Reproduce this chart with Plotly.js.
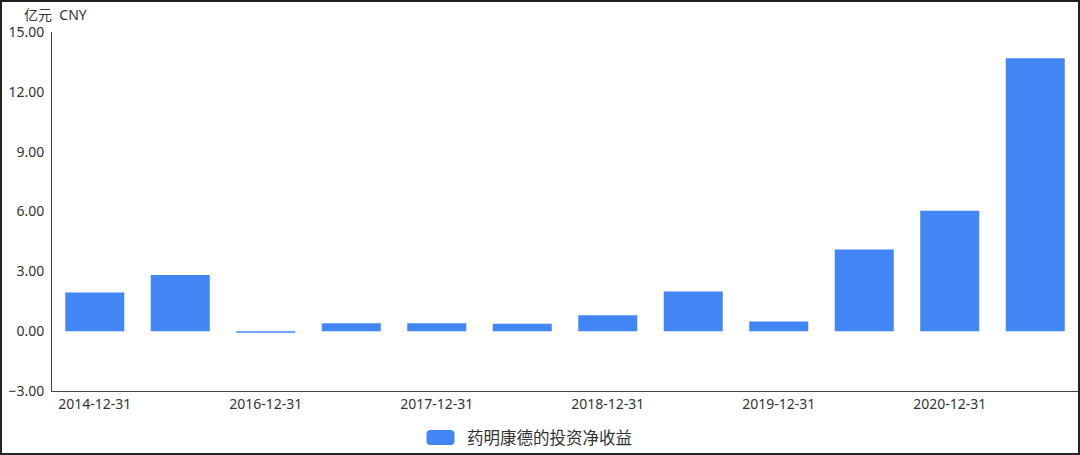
<!DOCTYPE html>
<html>
<head>
<meta charset="utf-8">
<script src="https://cdn.plot.ly/plotly-3.0.1.min.js"></script>
<style>
  html, body { margin: 0; padding: 0; background: #fff; }
  #frame { width: 1080px; height: 455px; box-sizing: border-box; border: 2px solid #222; overflow: hidden; }
  #chart { width: 1076px; height: 451px; }
</style>
</head>
<body>
<div id="frame"><div id="chart"></div></div>
<script>
// 药明康德 投资净收益 (亿元)
let periods = ['2014-12-31', '2015-12-31', '2016-12-31', '2017-06-30', '2017-12-31', '2018-06-30',
               '2018-12-31', '2019-06-30', '2019-12-31', '2020-06-30', '2020-12-31', '2021-06-30'];
let netIncome = [1.94, 2.81, -0.08, 0.40, 0.40, 0.37, 0.80, 1.99, 0.48, 4.10, 6.04, 13.68];
let tickLabels = ['2014-12-31', '2016-12-31', '2017-12-31', '2018-12-31', '2019-12-31', '2020-12-31'];
let seriesName = '药明康德的投资净收益';
let unitLabel = '亿元  CNY';

let fontFamily = '"Noto Sans", "Noto Sans CJK SC", sans-serif';

let trace = {
  type: 'bar',
  x: periods,
  y: netIncome,
  name: seriesName,
  marker: { color: '#4285f4' },
  hoverinfo: 'x+y'
};

var layout = {
  width: 1076,
  height: 451,
  margin: { l: 50, r: 0, t: 30, b: 62 },
  paper_bgcolor: '#fff',
  plot_bgcolor: '#fff',
  font: { family: fontFamily, size: 14, color: '#333' },
  showlegend: false,
  bargap: 0.31,
  xaxis: {
    type: 'category',
    tickvals: tickLabels,
    ticktext: tickLabels,
    showgrid: false,
    zeroline: false,
    showline: true,
    linecolor: '#444',
    linewidth: 1,
    ticks: '',
    tickfont: { size: 14, color: '#333' },
    fixedrange: true
  },
  yaxis: {
    range: [-3, 15],
    dtick: 3,
    tick0: 0,
    tickformat: '.2f',
    showgrid: false,
    zeroline: false,
    showline: true,
    linecolor: '#444',
    linewidth: 1,
    ticks: '',
    ticklabelstandoff: 4,
    tickfont: { size: 14, color: '#333' },
    fixedrange: true
  },
  annotations: [
    {
      text: unitLabel,
      xref: 'paper', yref: 'paper',
      x: 0, y: 1,
      xanchor: 'left', yanchor: 'middle',
      xshift: -30, yshift: 18,
      showarrow: false,
      font: { size: 14, color: '#333' }
    },
    {
      text: seriesName,
      xref: 'paper', yref: 'paper',
      x: 0.403, y: 0,
      xanchor: 'left', yanchor: 'middle',
      yshift: -46,
      showarrow: false,
      font: { size: 16.5, color: '#333' }
    }
  ],
  shapes: [
    {
      type: 'path',
      xref: 'paper', yref: 'paper',
      xsizemode: 'pixel', ysizemode: 'pixel',
      xanchor: 0.365, yanchor: 0,
      path: 'M4,-39 H24 Q28,-39 28,-43 V-50 Q28,-54 24,-54 H4 Q0,-54 0,-50 V-43 Q0,-39 4,-39 Z',
      fillcolor: '#4285f4',
      line: { width: 0 }
    }
  ]
};

Plotly.newPlot('chart', [trace], layout, { displayModeBar: false, staticPlot: true });
</script>
</body>
</html>
